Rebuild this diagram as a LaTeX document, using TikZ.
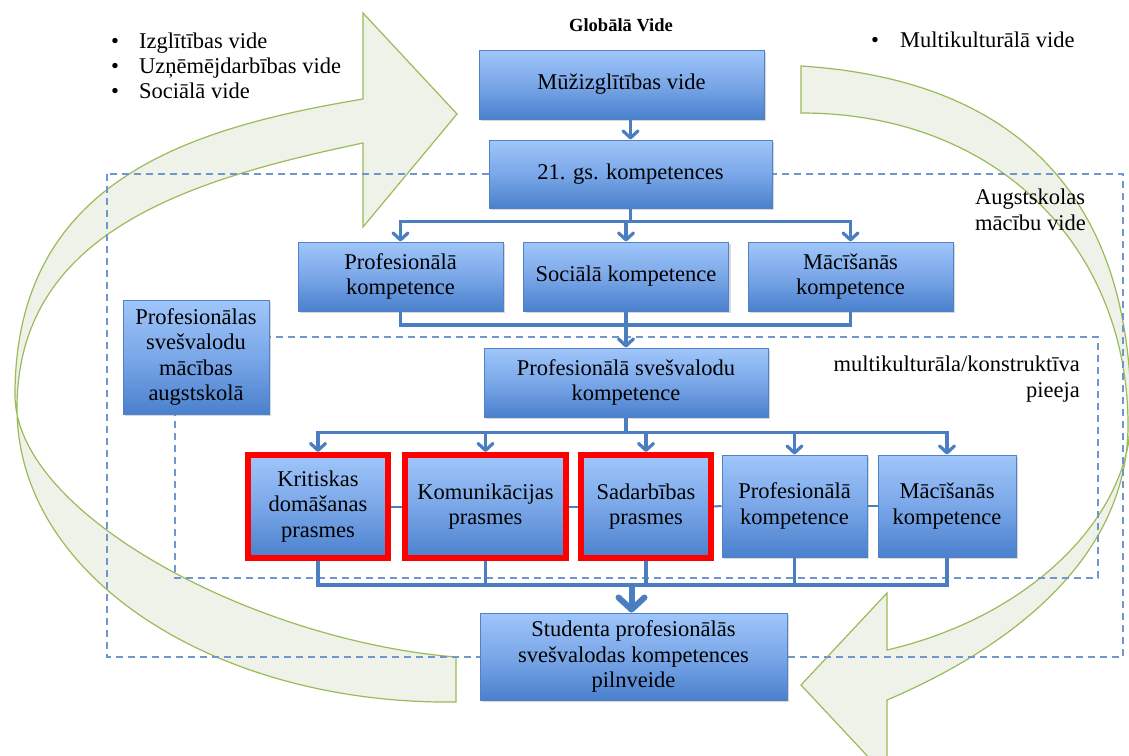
\documentclass[tikz,border=0pt]{standalone}
\usepackage{fontspec}
\setmainfont{Liberation Serif}
\usetikzlibrary{arrows.meta,shadows,backgrounds}

\definecolor{boxtop}{RGB}{160,198,250}
\definecolor{boxmid}{RGB}{122,167,232}
\definecolor{boxbot}{RGB}{74,128,205}
\definecolor{boxedge}{RGB}{80,130,200}
\definecolor{connblue}{RGB}{74,126,192}
\definecolor{dashblue}{RGB}{112,150,205}
\definecolor{bandline}{RGB}{155,187,89}
\definecolor{bandfill}{RGB}{238,242,232}

\newcommand{\diagfont}{\fontsize{22.5}{25.5}\selectfont}

\begin{document}
\begin{tikzpicture}[x=1pt,y=-1pt,
  box/.style={draw=boxedge, line width=1pt, top color=boxtop, bottom color=boxbot,
    middle color=boxmid, align=center, font=\diagfont, text=black, inner sep=2pt,
    drop shadow={shadow xshift=2pt, shadow yshift=-2pt, opacity=0.3}},
  keybox/.style={box, draw=red, line width=6pt},
  band/.style={draw=bandline, line width=1.2pt, fill=bandfill},
  dashbox/.style={draw=dashblue, line width=1.8pt, dash pattern=on 7pt off 5pt},
  wire/.style={draw=connblue, line width=3.2pt},
  conn/.style={wire, -{Straight Barb[length=7pt,width=15pt,round]}},
  bigconn/.style={draw=connblue, line width=6pt, -{Straight Barb[length=12pt,width=26pt,round]}},
  link/.style={draw=connblue, line width=2pt},
  label/.style={font=\diagfont, text=black, inner sep=0pt},
  bullet/.style={label, anchor=base west}]

\useasboundingbox (0,0) rectangle (1129,755);

% boxes
\node[box, minimum width=285pt, minimum height=69pt] (muz) at (621.5,84.5) {Mūžizglītības vide};
\node[box, minimum width=283pt, minimum height=68pt] (k21) at (630.5,174) {21. gs. kompetences};

\node[box, minimum width=205pt, minimum height=69pt] (prof1) at (400.5,276.5) {Profesionālā\\kompetence};
\node[box, minimum width=205pt, minimum height=69pt] (soc) at (626,276.5) {Sociālā kompetence};
\node[box, minimum width=205pt, minimum height=69pt] (mac1) at (850.5,276.5) {Mācīšanās\\kompetence};

\node[box, minimum width=146pt, minimum height=114pt] (left) at (196,357) {Profesionālas\\svešvalodu\\mācības\\augstskolā};

\node[box, minimum width=284pt, minimum height=69pt] (psk) at (626,382.5) {Profesionālā svešvalodu\\kompetence};

\node[keybox, minimum width=140pt, minimum height=103pt] (kr) at (318,506.5) {Kritiskas\\domāšanas\\prasmes};
\node[keybox, minimum width=161pt, minimum height=103pt] (kom) at (485.5,506.5) {Komunikācijas\\prasmes};
\node[keybox, minimum width=130pt, minimum height=103pt] (sad) at (646,506.5) {Sadarbības\\prasmes};
\node[box, minimum width=145pt, minimum height=102pt] (prof2) at (794.5,506) {Profesionālā\\kompetence};
\node[box, minimum width=138pt, minimum height=102pt] (mac2) at (947,506) {Mācīšanās\\kompetence};

\node[box, minimum width=307pt, minimum height=87pt] (stud) at (633.5,656.5) {Studenta profesionālās\\svešvalodas kompetences\\pilnveide};

% surrounding labels
\node[font=\bfseries\fontsize{18.5}{20}\selectfont, inner sep=0pt] (glob) at (621,25) {Globālā Vide};

\node[bullet] (b1) at (111,48) {\makebox[28pt][l]{•}Izglītības vide};
\node[bullet] (b2) at (111,73) {\makebox[28pt][l]{•}Uzņēmējdarbības vide};
\node[bullet] (b3) at (111,98) {\makebox[28pt][l]{•}Sociālā vide};
\node[bullet] (b4) at (871,47) {\makebox[29pt][l]{•}Multikulturālā vide};

\node[label, anchor=west, align=left] (aug) at (975,210) {Augstskolas\\mācību vide};
\node[label, anchor=east, align=right] (pie) at (1080,379) {multikulturāla/konstruktīva\\pieeja};

\begin{scope}[on background layer]
  % canvas
  \fill[white] (0,0) rectangle (1129,755);

  % curved ribbon arrows
  \filldraw[band] (363,99) .. controls (190,128) and (15,180) .. (15,395)
    .. controls (15,515) and (256,641) .. (456,657)
    -- (456,702)
    .. controls (220,705) and (17,580) .. (17,408)
    .. controls (17,230) and (193,179) .. (363,143)
    -- (363,227) -- (457,114) -- (363,13) -- cycle;
  \filldraw[band] (801,66) .. controls (1020,80) and (1131,200) .. (1131,415)
    .. controls (1131,515) and (1033,616) .. (887,650)
    -- (887,593) -- (801,685) -- (887,777) -- (887,700)
    .. controls (1007,649) and (1128,560) .. (1128,425)
    .. controls (1128,250) and (1000,113) .. (801,113) -- cycle;

  % environment frames
  \draw[dashbox] (107,174) rectangle (1123,657);
  \draw[dashbox] (175,337) rectangle (1098,578);

  % links between the skill boxes
  \draw[link] (kr.east) -- (kom.west);
  \draw[link] (kom.east) -- (sad.west);
  \draw[link] (sad.east) -- (prof2.west);
  \draw[link] (prof2.east) -- (mac2.west);

  % connectors
  \draw[conn] (muz.south -| k21.north) -- (k21.north);
  \draw[conn] (k21.south) -- ++(0,13) -| (prof1.north);
  \draw[conn] (k21.south) -- ++(0,13) -| (soc.north);
  \draw[conn] (k21.south) -- ++(0,13) -| (mac1.north);

  \coordinate (j2) at (626,325);
  \draw[wire] (prof1.south) |- (j2);
  \draw[wire] (mac1.south) |- (j2);
  \draw[conn] (soc.south) -- (psk.north);

  \draw[conn] (psk.south) -- ++(0,15) -| (kr.north);
  \draw[conn] (psk.south) -- ++(0,15) -| (kom.north);
  \draw[conn] (psk.south) -- ++(0,15) -| (sad.north);
  \draw[conn] (psk.south) -- ++(0,15) -| (prof2.north);
  \draw[conn] (psk.south) -- ++(0,15) -| (mac2.north);

  \coordinate (j3) at (631.5,585);
  \draw[wire] (kr.south) |- (j3);
  \draw[wire] (kom.south) |- (j3);
  \draw[wire] (sad.south) |- (j3);
  \draw[wire] (prof2.south) |- (j3);
  \draw[wire] (mac2.south) |- (j3);
  \draw[bigconn] (j3) -- (stud.north -| j3);
\end{scope}
\end{tikzpicture}
\end{document}
